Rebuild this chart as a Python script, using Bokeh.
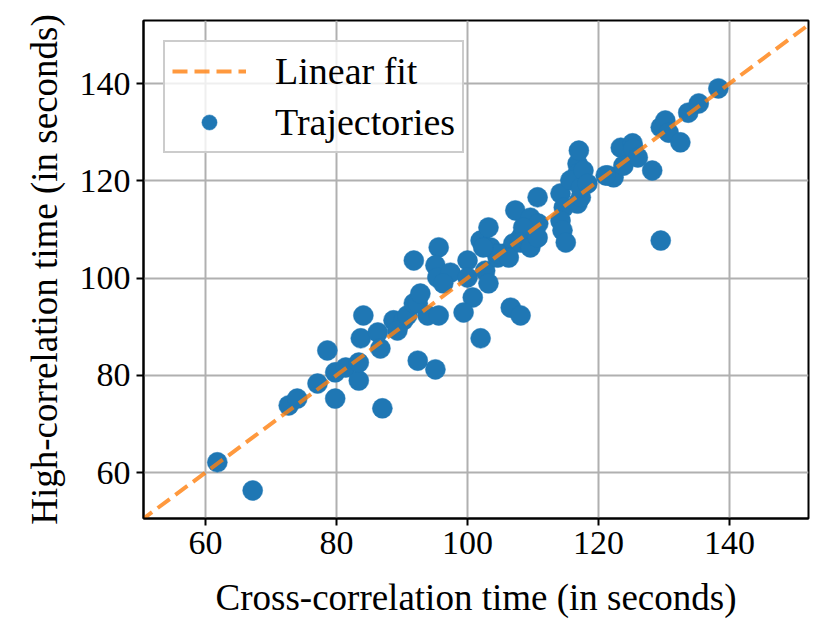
from bokeh.plotting import figure
from bokeh.models import Range1d, Legend, LegendItem, ColumnDataSource
from bokeh.embed import file_html
from bokeh.resources import INLINE

# Data
cross_corr = [61.8, 67.2, 72.7, 74.0, 77.1, 78.6, 79.8, 79.8, 81.4, 83.4, 83.7, 84.1, 83.4, 86.3, 87.0, 86.7, 88.7, 90.2, 89.3, 90.8, 91.8, 92.4,
              91.8, 95.6, 95.1, 95.4, 97.4, 96.3, 100.0, 100.0, 102.7, 103.2, 100.8, 99.4, 93.9, 95.6, 92.4, 92.8, 102.0, 106.6, 108.1, 95.1, 102.0, 103.5, 105.5, 107.0, 108.1, 104.6,
              103.2, 104.7, 106.3, 102.4, 107.3, 109.6, 110.8, 108.5, 108.1, 109.6, 110.7, 110.7,
              114.2, 114.7, 114.2, 114.5, 115.0, 116.8, 117.3, 116.8, 116.8, 115.7, 117.3, 117.0,
              117.7, 118.3, 121.4, 122.3, 121.1,
              123.4, 125.2, 124.9, 123.8, 125.3, 126.0, 128.2, 129.5, 130.2, 130.7, 132.5, 133.7, 135.3, 138.3, 129.5]
high_corr = [62.1, 56.3, 73.8, 75.2, 78.3, 85.1, 80.6, 75.2, 81.6, 78.9, 87.6, 92.3, 82.6, 88.8, 73.2, 85.5, 91.3, 91.3, 89.2, 92.3, 94.8, 83.0,
             103.6, 106.3, 102.6, 100.1, 101.1, 98.9, 103.6, 100.1, 101.5, 98.9, 96.0, 92.9, 92.3, 92.3, 94.8, 96.8, 87.6, 93.9, 92.3, 81.2, 107.7, 106.3, 105.0, 107.1, 108.3, 104.2,
             110.4, 105.0, 104.2, 106.3, 113.9, 112.4, 111.2, 110.4, 107.3, 106.3, 108.3, 116.6,
             117.4, 114.5, 111.8, 109.8, 107.3, 115.3, 116.6, 123.5, 121.5, 120.1, 118.6, 126.2,
             122.1, 119.4, 121.1, 120.7, 121.1,
             126.8, 127.7, 125.2, 123.1, 126.6, 124.8, 122.1, 131.0, 132.4, 129.9, 127.9, 134.0, 135.9, 139.0, 107.7]
fit_slope = 1.0
fit_intercept = 0.0
fit_x = [50.0, 153.0]
tick_values = [60, 80, 100, 120, 140]

fit_y = [fit_slope * v + fit_intercept for v in fit_x]

FONT = "Liberation Serif"

p = figure(frame_width=665, frame_height=498,
           min_border_left=143, min_border_right=23, min_border_top=20, min_border_bottom=122,
           x_range=Range1d(50.53, 152.06), y_range=Range1d(50.54, 152.96),
           output_backend="svg", toolbar_location=None)

p.background_fill_color = "white"
p.border_fill_color = "white"
p.outline_line_color = "black"
p.outline_line_width = 2
p.outline_line_alpha = 1.0

p.grid.grid_line_color = "#b0b0b0"
p.grid.grid_line_width = 2
p.xgrid.ticker = tick_values
p.ygrid.ticker = tick_values

for ax in (p.xaxis, p.yaxis):
    ax.ticker = tick_values
    ax.major_label_text_font = FONT
    ax.major_label_text_font_size = "34px"
    ax.major_label_text_color = "black"
    ax.axis_label_text_font = FONT
    ax.axis_label_text_font_size = "37px"
    ax.axis_label_text_font_style = "normal"
    ax.axis_label_text_color = "black"
    ax.major_tick_out = 7
    ax.major_tick_in = 0
    ax.major_tick_line_width = 2
    ax.major_tick_line_color = "black"
    ax.minor_tick_out = 0
    ax.minor_tick_in = 0
    ax.axis_line_width = 2
    ax.axis_line_color = "black"
    ax.major_label_standoff = 6

p.xaxis.axis_label = "Cross-correlation time (in seconds)"
p.yaxis.axis_label = "High-correlation time (in seconds)"
p.xaxis.axis_label_standoff = 20
p.yaxis.axis_label_standoff = 12

src = ColumnDataSource(dict(x=cross_corr, y=high_corr))
pts = p.scatter("x", "y", source=src, size=20, fill_color="#1f77b4", line_color="#1f77b4", line_width=0.5)
fit = p.line(fit_x, fit_y, line_color="#ff7f0e", line_alpha=0.8, line_width=4, line_dash="15 7")

legend = Legend(items=[LegendItem(label="Linear fit", renderers=[fit]),
                       LegendItem(label="Trajectories", renderers=[pts])],
                location="top_left", margin=20, padding=7, spacing=7,
                glyph_width=74, glyph_height=38, label_height=38, label_standoff=29,
                label_text_font=FONT, label_text_font_size="38px", label_text_color="black",
                border_line_color="#cccccc", border_line_width=2, border_line_alpha=1.0,
                background_fill_color="white", background_fill_alpha=0.8)
p.add_layout(legend)

open("out.html", "w").write(file_html(p, INLINE))
